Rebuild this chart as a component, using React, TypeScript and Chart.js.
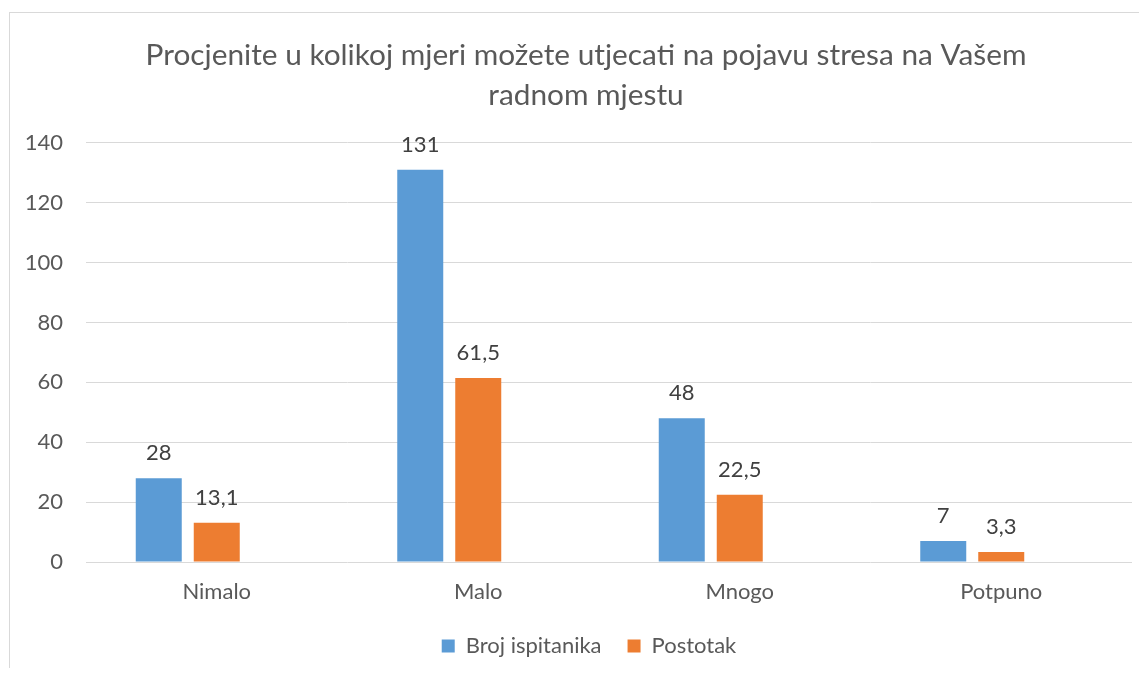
import React, { useEffect, useRef } from "react";
import { Chart, registerables } from "chart.js";

Chart.register(...registerables);

const titleLines = ["Procjenite u kolikoj mjeri možete utjecati na pojavu stresa na Vašem", "radnom mjestu"];
const categories = ["Nimalo", "Malo", "Mnogo", "Potpuno"];
const brojIspitanika = [28, 131, 48, 7];
const postotak = [13.1, 61.5, 22.5, 3.3];
const emptySeries: (number | null)[] = [null, null, null, null];
const seriesNames = ["Broj ispitanika", "Postotak", ""];
const yMin = 0;
const yMax = 140;
const yStep = 20;

const FONT = "Lato";

const dataLabelPlugin = {
  id: "dataLabels",
  afterDatasetsDraw(chart: any) {
    const ctx = chart.ctx;
    ctx.save();
    ctx.font = `22px ${FONT}`;
    ctx.fillStyle = "#404040";
    ctx.textAlign = "center";
    ctx.textBaseline = "bottom";
    chart.data.datasets.forEach((ds: any, i: number) => {
      const meta = chart.getDatasetMeta(i);
      meta.data.forEach((el: any, j: number) => {
        const v = ds.data[j];
        if (v === null || v === undefined) return;
        const txt = String(v).replace(".", ",");
        ctx.fillText(txt, el.x, el.y - 14);
      });
    });
    ctx.restore();
  },
};

const shiftPlugin = {
  id: "shiftBlocks",
  afterLayout(chart: any) {
    if (chart.titleBlock) {
      chart.titleBlock.left += 30;
    }
    if (chart.legend) {
      chart.legend.left += 36;
    }
  },
};

export default function App() {
  const ref = useRef<HTMLCanvasElement>(null);
  useEffect(() => {
    if (!ref.current) return;
    const common = { categoryPercentage: 0.6654, barPercentage: 0.793 };
    const chart = new Chart(ref.current, {
      type: "bar",
      data: {
        labels: categories,
        datasets: [
          { label: seriesNames[0], data: brojIspitanika, backgroundColor: "#5B9BD5", ...common },
          { label: seriesNames[1], data: postotak, backgroundColor: "#ED7D31", ...common },
          { label: seriesNames[2], data: emptySeries, backgroundColor: "#A5A5A5", ...common },
        ],
      },
      options: {
        animation: false,
        responsive: true,
        maintainAspectRatio: false,
        layout: { padding: { left: 0, right: 48, top: 0, bottom: 26 } },
        plugins: {
          title: {
            display: true,
            text: titleLines,
            color: "#595959",
            font: { family: FONT, size: 29.8, weight: "normal", lineHeight: 1.34 },
            padding: { top: 22, bottom: 28 },
          },
          legend: {
            position: "bottom",
            labels: {
              color: "#595959",
              font: { family: FONT, size: 22 },
              boxWidth: 13,
              boxHeight: 13,
              padding: 26,
              filter: (item: any) => item.datasetIndex < 2,
            },
          },
          tooltip: { enabled: false },
        },
        scales: {
          x: {
            grid: { display: false, drawTicks: false },
            border: { display: false },
            ticks: { color: "#595959", font: { family: FONT, size: 22 }, padding: 17 },
            afterFit: (scale: any) => {
              scale.height = 47;
            },
          },
          y: {
            min: yMin,
            max: yMax,
            grid: { color: "#D9D9D9", drawTicks: false },
            border: { display: false },
            ticks: { stepSize: yStep, color: "#595959", font: { family: FONT, size: 22 }, padding: 23 },
            afterFit: (scale: any) => {
              scale.width = 76;
            },
          },
        },
      },
      plugins: [dataLabelPlugin, shiftPlugin],
    });
    return () => chart.destroy();
  }, []);

  return (
    <div style={{ position: "relative", width: 1139, height: 660, overflow: "hidden" }}>
      <div style={{ position: "absolute", left: 1, top: 4, width: 1170, height: 680, border: "1px solid #D9D9D9", background: "#fff" }}>
        <canvas ref={ref} />
      </div>
    </div>
  );
}
